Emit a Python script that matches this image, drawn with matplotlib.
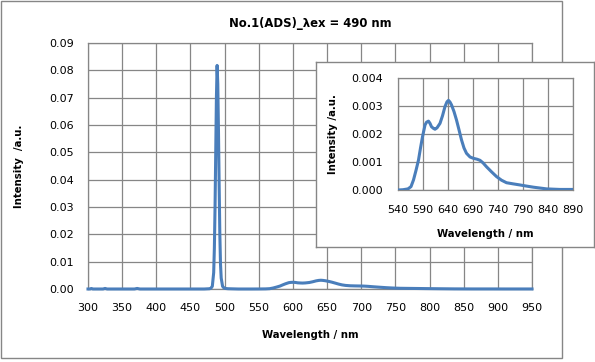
import matplotlib
matplotlib.use("Agg")
import matplotlib.pyplot as plt
from matplotlib.patches import Rectangle
from matplotlib.ticker import FormatStrFormatter

# ---- data ----
wavelength = [300, 303, 305, 307, 322, 325, 328, 368, 372, 376, 470, 478, 480, 482, 484, 485, 486, 487,
              488, 489, 490, 491, 492, 493, 494, 495, 497, 499, 501, 505, 520, 540, 550,
              560, 566, 571, 576, 581, 585, 589, 592, 594, 597, 601, 604, 607, 611, 614,
              618, 624, 629, 634, 638, 641, 644, 647, 652, 657, 662, 667, 672, 677,
              684, 691, 698, 704, 710, 717, 727, 737, 747, 757, 770, 784, 797, 811,
              824, 837, 850, 864, 877, 890, 910, 930, 950]
intensity = [0.0000, 0.0000, 0.0002, 0.0000, 0.0000, 0.0002, 0.0000, 0.0000, 0.0002, 0.0000,
             0.0000, 0.0001, 0.0003, 0.0010, 0.0060, 0.0150, 0.0300, 0.0500,
             0.0700, 0.0818, 0.0750, 0.0580, 0.0380, 0.0200, 0.0090, 0.0040, 0.0010, 0.0004,
             0.0002, 0.0001, 0.0000, 0.0000, 0.00001,
             0.00004, 0.00012, 0.00036, 0.00070, 0.00107, 0.00150, 0.00190, 0.00215, 0.00232,
             0.00242, 0.00246, 0.00238, 0.00226, 0.00220, 0.00217,
             0.00222, 0.00238, 0.00265, 0.00298, 0.00315, 0.00320, 0.00314, 0.00304, 0.00280,
             0.00250, 0.00215, 0.00179, 0.00150, 0.00131,
             0.00118, 0.00113, 0.00110, 0.00106, 0.00097, 0.00083, 0.00065, 0.00048, 0.00035,
             0.00026, 0.00022, 0.00018, 0.00014, 0.00010,
             0.00007, 0.00004, 0.00003, 0.00002, 0.00002, 0.00002, 0.00001, 0.00001, 0.00001]

main_xticks = list(range(300, 951, 50))
main_yticks = [0.00, 0.01, 0.02, 0.03, 0.04, 0.05, 0.06, 0.07, 0.08, 0.09]
inset_xticks = list(range(540, 891, 50))
inset_yticks = [0.000, 0.001, 0.002, 0.003, 0.004]

title = "No.1(ADS)_\u03bbex = 490 nm"
xlabel = "Wavelength / nm"
ylabel_main = "Intensity  /a.u."
ylabel_inset = "Intensity /a.u."

# ---- styling ----
W, H = 595, 362
LINE = "#4a7ebb"
GRID = "#868686"
plt.rcParams['font.family'] = ['DejaVu Sans']
TICKFS = 8.0
LABFS = 7.3

fig = plt.figure(figsize=(W / 100, H / 100), dpi=100)
fig.patch.set_facecolor("white")


def px_axes(left, top, right, bottom):
    return [left / W, (H - bottom) / H, (right - left) / W, (bottom - top) / H]


# outer border of the main chart
fig.patches.append(Rectangle((1 / W, (H - 358) / H), 561 / W, 357 / H, transform=fig.transFigure,
                             fill=False, edgecolor=GRID, lw=1.0, zorder=-1))

# main axes
ax = fig.add_axes(px_axes(88, 43, 532, 289))
ax.plot(wavelength, intensity, color=LINE, lw=2.2, solid_joinstyle="round", clip_on=False, zorder=3)
ax.set_xlim(300, 950)
ax.set_ylim(0, 0.09)
ax.set_xticks(main_xticks)
ax.set_yticks(main_yticks)
ax.yaxis.set_major_formatter(FormatStrFormatter('%.2f'))
ax.grid(True, color=GRID, lw=0.9)
ax.set_axisbelow(True)
for s in ax.spines.values():
    s.set_color(GRID)
    s.set_linewidth(0.9)
ax.tick_params(length=0, labelsize=TICKFS)
ax.tick_params(axis='y', pad=10)
ax.tick_params(axis='x', pad=10)
ax.set_xlabel(xlabel, fontsize=LABFS, fontweight='bold', labelpad=12)
ax.set_ylabel(ylabel_main, fontsize=LABFS, fontweight='bold', labelpad=18)
fig.text(310 / W, 1 - 23 / H, title, ha='center', va='center', fontsize=8.4, fontweight='bold')

# inset box
box = fig.add_axes(px_axes(316, 62, 594, 247))
box.set_xticks([])
box.set_yticks([])
box.set_facecolor("white")
for s in box.spines.values():
    s.set_color(GRID)
    s.set_linewidth(1.0)

# inset axes
ins = fig.add_axes(px_axes(398, 78, 573, 190))
ins.plot(wavelength, intensity, color=LINE, lw=2.2, solid_joinstyle="round", zorder=3)
ins.set_xlim(540, 890)
ins.set_ylim(0, 0.004)
ins.set_xticks(inset_xticks)
ins.set_yticks(inset_yticks)
ins.yaxis.set_major_formatter(FormatStrFormatter('%.3f'))
ins.grid(True, color=GRID, lw=0.9)
ins.set_axisbelow(True)
for s in ins.spines.values():
    s.set_color(GRID)
    s.set_linewidth(0.9)
ins.tick_params(length=0, labelsize=TICKFS)
ins.tick_params(axis='y', pad=11)
ins.tick_params(axis='x', pad=11)
ins.set_xlabel(xlabel, fontsize=LABFS, fontweight='bold', labelpad=10)
ins.set_ylabel(ylabel_inset, fontsize=LABFS, fontweight='bold', labelpad=9)

fig.savefig("out.png", dpi=100, facecolor="white")
